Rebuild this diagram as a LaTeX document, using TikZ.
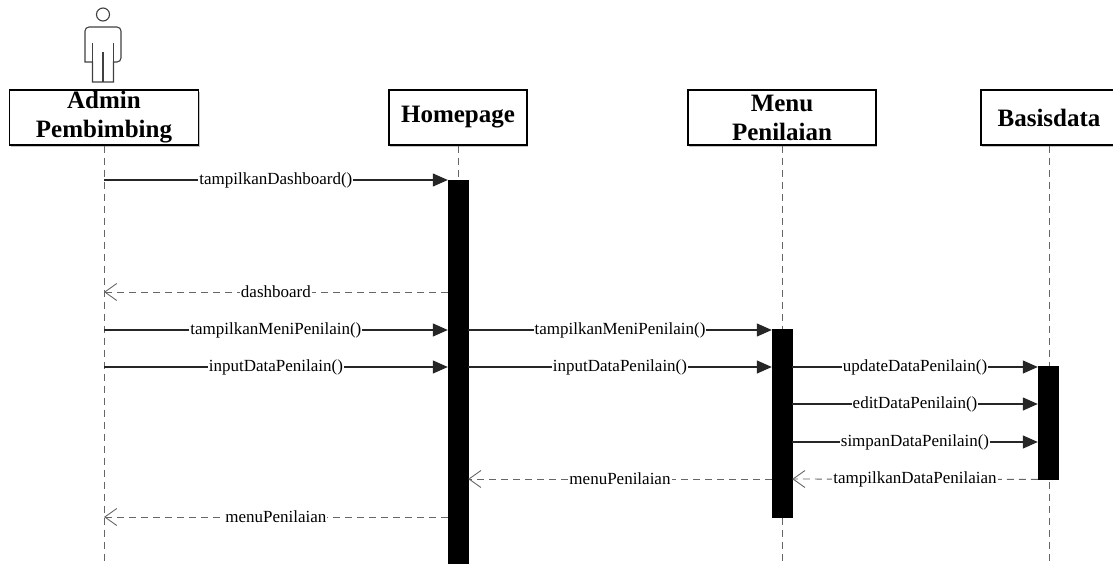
\documentclass[tikz,border=0pt]{standalone}
\usepackage{fontspec}
\setmainfont{Liberation Serif}
\usetikzlibrary{arrows.meta, positioning, shadows}

\begin{document}
\begin{tikzpicture}[x=1pt, y=-1pt]
    % --- Style Definitions ---
    \tikzset{
        % Lifeline heads
        head box/.style={
            draw=black,
            line width=1.3pt,
            fill=white,
            minimum height=55pt,
            inner sep=0pt,
            align=center,
            font=\fontsize{25}{29}\selectfont\bfseries,
            drop shadow={shadow xshift=1.2pt, shadow yshift=-1.6pt, fill=black!45}
        },
        % Dashed lifeline
        life line/.style={
            draw=black!60,
            line width=0.9pt,
            dash pattern=on 7pt off 5pt
        },
        % Activation bars
        act bar/.style={
            fill=black,
            draw=black,
            minimum width=20pt,
            inner sep=0pt,
            anchor=north
        },
        % Messages
        call arrow/.style={
            draw=black!85,
            line width=1.2pt,
            -{Triangle[length=15pt, width=13pt]}
        },
        reply arrow/.style={
            draw=black!60,
            line width=0.9pt,
            dash pattern=on 7pt off 5pt,
            -{Straight Barb[length=12pt, width=17pt]}
        },
        msg text/.style={fill=white, inner sep=1pt, font=\fontsize{17}{19}\selectfont},
        % Actor figure
        actor line/.style={draw=black!75, line width=1.1pt}
    }

    \clip (0,0) rectangle (1113,563);

    % ==========================================
    % ACTOR AND LIFELINE HEADS
    % ==========================================
    \begin{scope}[shift={(103,0)}]
        \draw[actor line] (0,14.5) circle[radius=6.5];
        \draw[actor line] (-10.5,82) -- (-10.5,62) -- (-18,62) [rounded corners=4pt] -- (-18,27) -- (18,27) -- (18,62) [sharp corners] -- (10.5,62) -- (10.5,82) -- cycle;
        \draw[actor line] (0,52) -- (0,82);
        \draw[actor line] (-10.5,43) -- (-10.5,62);
        \draw[actor line] (10.5,43) -- (10.5,62);
    \end{scope}

    \node[head box, minimum width=189pt] (admin) at (104,117.5) {Admin\\Pembimbing};
    \node[head box, minimum width=138pt] (home) at (458,117.5) {Homepage};
    \node[head box, minimum width=188pt] (menu) at (782,117.5) {Menu\\Penilaian};
    \node[head box, minimum width=136pt] (db) at (1049,117.5) {Basisdata};

    % 1. Lifelines
    \draw[life line] (admin.south) -- (admin.south |- 0,570);
    \draw[life line] (home.south) -- (home.south |- 0,570);
    \draw[life line] (menu.south) -- (menu.south |- 0,570);
    \draw[life line] (db.south) -- (db.south |- 0,570);

    % 2. Activation bars
    \node[act bar, minimum height=400pt] (home_bar) at (458,180) {};
    \node[act bar, minimum height=188pt] (menu_bar) at (782,329) {};
    \node[act bar, minimum height=113pt] (db_bar) at (1048,366) {};

    % ==========================================
    % MESSAGES
    % ==========================================
    \coordinate (r_dash) at (0,292);
    \coordinate (r_menu) at (0,330);
    \coordinate (r_input) at (0,367);
    \coordinate (r_edit) at (0,404);
    \coordinate (r_save) at (0,442);
    \coordinate (r_show) at (0,479);
    \coordinate (r_back) at (0,517);

    \draw[call arrow] (admin.south |- home_bar.north) -- node[msg text] {tampilkanDashboard()} (home_bar.north west);
    \draw[reply arrow] (home_bar.west |- r_dash) -- node[msg text] {dashboard} (admin.south |- r_dash);

    \draw[call arrow] (admin.south |- r_menu) -- node[msg text] {tampilkanMeniPenilain()} (home_bar.west |- r_menu);
    \draw[call arrow] (home_bar.east |- r_menu) -- node[msg text] {tampilkanMeniPenilain()} (menu_bar.west |- r_menu);

    \draw[call arrow] (admin.south |- r_input) -- node[msg text] {inputDataPenilain()} (home_bar.west |- r_input);
    \draw[call arrow] (home_bar.east |- r_input) -- node[msg text] {inputDataPenilain()} (menu_bar.west |- r_input);
    \draw[call arrow] (menu_bar.east |- r_input) -- node[msg text] {updateDataPenilain()} (db_bar.west |- r_input);
    \draw[call arrow] (menu_bar.east |- r_edit) -- node[msg text] {editDataPenilain()} (db_bar.west |- r_edit);
    \draw[call arrow] (menu_bar.east |- r_save) -- node[msg text] {simpanDataPenilain()} (db_bar.west |- r_save);

    \draw[reply arrow] (db_bar.south west) -- node[msg text] {tampilkanDataPenilaian} (menu_bar.east |- r_show);
    \draw[reply arrow] (menu_bar.west |- r_show) -- node[msg text] {menuPenilaian} (home_bar.east |- r_show);
    \draw[reply arrow] (home_bar.west |- r_back) -- node[msg text] {menuPenilaian} (admin.south |- r_back);

\end{tikzpicture}
\end{document}
